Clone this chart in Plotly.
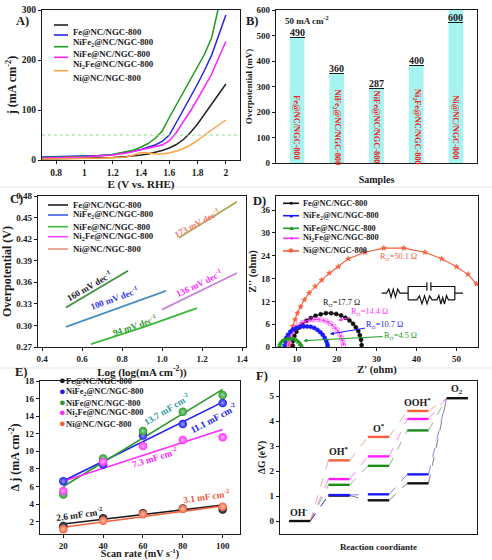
import plotly.graph_objects as go

W, H = 492, 560
SERIF = "Liberation Serif"


def fx(p):
    return p / W


def fy(p):
    return 1 - p / H


names = ["Fe@NC/NGC-800", "NiFe<sub>2</sub>@NC/NGC-800", "NiFe@NC/NGC-800",
         "Ni<sub>2</sub>Fe@NC/NGC-800", "Ni@NC/NGC-800"]

# A) LSV curves
lsv_e = [0.7, 0.8, 0.9, 1.0, 1.1, 1.2, 1.3, 1.35, 1.4, 1.45, 1.5, 1.55, 1.6,
         1.65, 1.7, 1.75, 1.8, 1.85, 1.9, 1.95, 2.0]
j_fe = [2, 2.5, 3, 3.5, 4, 5, 7, 8, 10, 12, 15, 19, 24, 31, 41, 55, 72, 92, 112, 133, 152]
j_nife2 = [6, 6.5, 7, 8, 9, 11, 15, 18, 21, 25, 30, 37, 50, 75, 100, 126, 152, 180, 210, 250, 290]
j_nife = [5, 5.5, 6, 7, 8, 11, 16, 20, 26, 33, 43, 58, 85, 110, 135, 160, 185, 212, 245, 310, 370]
j_ni2fe = [4, 4.5, 5, 6, 8, 10, 14, 17, 20, 23, 26, 30, 38, 55, 77, 98, 122, 147, 172, 205, 237]
j_ni = [2, 2, 2.5, 3, 3.5, 4.5, 6, 10, 15, 14, 12, 12, 14, 18, 23, 30, 39, 50, 60, 70, 80]
lsv_colors = ["#222222", "#2424e8", "#1e9a1e", "#ff22ff", "#ffa246"]
ref_j = 50

# B) overpotential at 50 mA cm-2
eta_bar = [490, 350, 290, 380, 600]
eta_text = ["490", "360", "287", "400", "600"]

# C) Tafel plots
tafel_fe_x, tafel_fe_y = [0.52, 0.83], [0.325, 0.376]
tafel_nife2_x, tafel_nife2_y = [0.52, 1.02], [0.298, 0.348]
tafel_nife_x, tafel_nife_y = [0.645, 0.9, 1.175], [0.274, 0.297, 0.324]
tafel_ni2fe_x, tafel_ni2fe_y = [1.0, 1.375], [0.322, 0.373]
tafel_ni_x, tafel_ni_y = [1.085, 1.375], [0.422, 0.472]
tafel_slopes = ["160", "100", "94", "136", "173"]
tafel_line_colors = ["#3d8f3d", "#4a8fc4", "#3cb83c", "#c985d9", "#b3a552"]
tafel_text_colors = ["#222222", "#3535f0", "#2d9a2d", "#ff2aff", "#f27a6e"]
tafel_legend_colors = ["#222222", "#3a60e0", "#3cb83c", "#ff44ff", "#e8967e"]

# D) Nyquist plots
z_fe_re = [9.0, 9.1, 9.4, 9.9, 10.6, 11.4, 12.4, 13.5, 14.7, 16.0, 17.3, 18.6, 19.9,
           21.1, 22.2, 23.2, 24.1, 24.8, 25.4, 25.8, 26.1, 26.25]
z_fe_im = [0.3, 1.6, 2.9, 4.0, 5.1, 6.0, 6.9, 7.6, 8.2, 8.6, 8.9, 8.9, 8.7, 8.3, 7.7,
           7.0, 6.1, 5.2, 4.2, 3.1, 1.9, 0.5]
z_nife2_re = [7.0, 7.1, 7.4, 7.8, 8.4, 9.1, 9.9, 10.8, 11.7, 12.6, 13.5, 14.4, 15.2,
              15.9, 16.5, 17.0, 17.4, 17.65, 17.75]
z_nife2_im = [0.3, 1.4, 2.4, 3.2, 4.0, 4.6, 5.0, 5.3, 5.4, 5.4, 5.3, 5.0, 4.5, 3.9,
              3.2, 2.4, 1.6, 0.8, 0.2]
z_nife_re = [5.7, 5.9, 6.3, 6.9, 7.6, 8.4, 9.2, 9.9, 10.5, 10.9, 11.2]
z_nife_im = [0.2, 0.9, 1.5, 1.9, 2.1, 2.2, 2.1, 1.8, 1.3, 0.7, 0.1]
z_ni2fe_re = [7.7, 7.9, 8.3, 8.9, 9.6, 10.5, 11.5, 12.6, 13.8, 15.0, 16.2, 17.3, 18.4,
              19.3, 20.1, 20.8, 21.3, 21.6, 21.7]
z_ni2fe_im = [0.4, 1.8, 3.0, 4.1, 5.0, 5.8, 6.5, 6.9, 7.2, 7.3, 7.1, 6.8, 6.2, 5.4,
              4.5, 3.4, 2.3, 1.2, 0.3]
z_ni_re = [8.15, 8.3, 8.6, 9.0, 9.6, 10.15, 11.0, 11.9, 13.1, 14.6, 16.25, 18.15, 20.4,
           22.9, 27.1, 31.8, 36.8, 42.1, 46.3, 50.0, 52.9, 55.0]
z_ni_im = [0.6, 2.4, 4.1, 5.4, 7.2, 8.9, 10.6, 12.4, 14.2, 15.9, 17.6, 19.4, 21.1, 23.2,
           24.9, 26.0, 26.0, 24.9, 23.2, 21.1, 19.1, 16.6]
nyq_colors = ["#111111", "#1a1aff", "#1f9a1f", "#ff33ff", "#f5603c"]
nyq_symbols = ["circle", "circle", "triangle-up", "square-open", "star"]
nyq_glyphs = ["●", "●", "▲", "◂", "✱"]
rct = ["17.7", "10.7", "4.5", "14.4", "50.1"]

# E) double layer capacitance
scan = [20, 40, 60, 80, 100]
dj_fe = [1.5, 2.4, 2.95, 3.5, 3.4]
dj_nife2 = [6.6, 8.5, 11.8, 13.1, 15.5]
dj_nife = [5.1, 9.2, 12.3, 14.5, 16.4]
dj_ni2fe = [5.5, 8.8, 10.6, 11.3, 11.6]
dj_ni = [1.15, 2.1, 2.85, 3.45, 3.7]
fit_scan = [20, 100]
fit_fe = [1.74, 3.89]
fit_nife2 = [6.62, 15.6]
fit_nife = [6.0, 17.05]
fit_ni2fe = [6.6, 12.48]
fit_ni = [1.36, 3.78]
cdl = ["2.6", "11.1", "13.7", "7.3", "3.1"]
cdl_colors = ["#1a1a1a", "#1c1ced", "#2a9a2a", "#ff2cff", "#f2603e"]
cdl_light = ["#8a8a8a", "#9a9aff", "#9ad89a", "#ffb0ff", "#ffc0a8"]
cdl_text_colors = ["#1a1a1a", "#2222ee", "#2a9d9d", "#ff22ff", "#f05a3a"]

# F) free energy diagram
steps = ["OH<sup>-</sup>", "OH<sup>*</sup>", "O<sup>*</sup>", "OOH<sup>*</sup>", "O<sub>2</sub>"]
dg_fe = [0, 1.02, 0.83, 1.51, 4.92]
dg_nife2 = [0, 1.04, 1.07, 1.87, 4.92]
dg_nife = [0, 1.45, 2.21, 3.63, 4.92]
dg_ni2fe = [0, 1.68, 2.59, 4.09, 4.92]
dg_ni = [0, 2.43, 3.37, 4.41, 4.92]
dg_colors = ["#111111", "#1a1aff", "#1a8c1a", "#ff1aff", "#f5603c"]


def tf(size, color="#1a1a1a", bold=True):
    return dict(family=SERIF, size=size, color=color, weight="bold" if bold else "normal")


fig = go.Figure()

# ---- A
for j, c in zip([j_fe, j_nife2, j_nife, j_ni2fe, j_ni], lsv_colors):
    fig.add_trace(go.Scatter(x=lsv_e, y=j, mode="lines", line=dict(color=c, width=1.5),
                             xaxis="x", yaxis="y"))

# ---- B
fig.add_trace(go.Bar(x=names, y=eta_bar, width=0.37, marker=dict(color="#a6f3ef", line=dict(width=0)),
                     xaxis="x2", yaxis="y2"))

# ---- C
tafel = [(tafel_fe_x, tafel_fe_y), (tafel_nife2_x, tafel_nife2_y), (tafel_nife_x, tafel_nife_y),
         (tafel_ni2fe_x, tafel_ni2fe_y), (tafel_ni_x, tafel_ni_y)]
for (tx, ty), c in zip(tafel, tafel_line_colors):
    fig.add_trace(go.Scatter(x=tx, y=ty, mode="lines", line=dict(color=c, width=1.8),
                             xaxis="x3", yaxis="y3"))

# ---- D
nyq = [(z_fe_re, z_fe_im), (z_nife2_re, z_nife2_im), (z_nife_re, z_nife_im),
       (z_ni2fe_re, z_ni2fe_im), (z_ni_re, z_ni_im)]
nyq_sizes = [4, 4, 4.5, 4, 4]
for k in [4, 0, 3, 1, 2]:
    zr, zi = nyq[k]
    fig.add_trace(go.Scatter(x=zr, y=zi, mode="lines+markers",
                             line=dict(color=nyq_colors[k], width=1.1),
                             marker=dict(color=nyq_colors[k], symbol=nyq_symbols[k], size=nyq_sizes[k],
                                         line=dict(width=0.6, color=nyq_colors[k])),
                             xaxis="x4", yaxis="y4"))

# ---- E
dj = [dj_fe, dj_nife2, dj_nife, dj_ni2fe, dj_ni]
fits = [fit_fe, fit_nife2, fit_nife, fit_ni2fe, fit_ni]
for f, c in zip(fits, cdl_colors):
    fig.add_trace(go.Scatter(x=fit_scan, y=f, mode="lines", line=dict(color=c, width=1.6),
                             xaxis="x5", yaxis="y5"))
for d, c, lc in zip(dj, cdl_colors, cdl_light):
    fig.add_trace(go.Scatter(x=scan, y=d, mode="markers",
                             marker=dict(color=c, size=8.5, gradient=dict(type="radial", color=lc),
                                         line=dict(width=0)),
                             xaxis="x5", yaxis="y5"))

# ---- F
half = 0.27
dgs = [dg_fe, dg_nife2, dg_nife, dg_ni2fe, dg_ni]
for dg, c in zip(dgs, dg_colors):
    cx, cy = [], []
    for i in range(len(dg) - 1):
        cx += [i + half, i + 1 - half, None]
        cy += [dg[i], dg[i + 1], None]
    fig.add_trace(go.Scatter(x=cx, y=cy, mode="lines", opacity=0.6,
                             line=dict(color=c, width=0.9, dash="dash"),
                             xaxis="x6", yaxis="y6"))
for n, (dg, c) in enumerate(zip(dgs, dg_colors)):
    idx = range(len(dg)) if n == 0 else range(1, len(dg) - 1)
    lx, ly = [], []
    for i in idx:
        lx += [i - half, i + half, None]
        ly += [dg[i], dg[i], None]
    fig.add_trace(go.Scatter(x=lx, y=ly, mode="lines", line=dict(color=c, width=2.4),
                             xaxis="x6", yaxis="y6"))


# ---- axes
def ax(domain, rng, anchor, title=None, tsize=12, standoff=2, **kw):
    d = dict(domain=domain, range=rng, anchor=anchor, showline=True, mirror=True,
             linecolor="#1a1a1a", linewidth=1.3, ticks="outside", ticklen=3, tickwidth=1,
             tickcolor="#1a1a1a", showgrid=False, zeroline=False, tickfont=tf(9),
             automargin=False)
    if title:
        d["title"] = dict(text=title, font=tf(tsize), standoff=standoff)
    d.update(kw)
    return d


layout_axes = dict(
    xaxis=ax([fx(42), fx(240)], [0.7, 2.1], "y", "E (V vs. RHE)", 11, dtick=0.2, tickfont=tf(9.5)),
    yaxis=ax([fy(160), fy(10)], [0, 300], "x", "j (mA cm<sup>-2</sup>)", 12, dtick=100, tickfont=tf(9.5)),
    xaxis2=ax([fx(276), fx(477)], [-0.53, 4.53], "y2", "Samples", 10, 12, showticklabels=False, ticks=""),
    yaxis2=ax([fy(163), fy(10)], [0, 600], "x2", "Overpotential (mV)", 9, 2, dtick=100),
    xaxis3=ax([fx(38), fx(246)], [0.38, 1.42], "y3", "Log (log(mA cm<sup>-2</sup>))", 11, dtick=0.2, tickformat=".1f"),
    yaxis3=ax([fy(347), fy(196)], [0.27, 0.48], "x3", "Overpotential (V)", 12, dtick=0.03, tickformat=".2f"),
    xaxis4=ax([fx(276), fx(478)], [4.8, 55.4], "y4", "Z' (ohm)", 10.5, dtick=10),
    yaxis4=ax([fy(347), fy(196)], [0, 39.7], "x4", "Z'' (ohm)", 10.5, dtick=6),
    xaxis5=ax([fx(40), fx(240)], [8.3, 108.7], "y5", "Scan rate (mV s<sup>-1</sup>)", 10.2, 3, dtick=20),
    yaxis5=ax([fy(534), fy(381)], [0.6, 18], "x5", "Δ j (mA cm<sup>-2</sup>)", 12, dtick=2),
    xaxis6=ax([fx(280), fx(477)], [-0.5, 4.5], "y6", "Reaction coordiante", 9, 9, showticklabels=False, ticks=""),
    yaxis6=ax([fy(534), fy(381)], [-0.52, 5.61], "x6", "ΔG (eV)", 9.5, dtick=1),
)

ann = []
shapes = []

# panel labels
for lab, x, y in [("A)", 14, 12), ("B)", 252, 12), ("C)", 8, 199), ("D)", 259, 201),
                  ("E)", 13, 381), ("F)", 262, 385)]:
    ann.append(dict(text=lab, x=fx(x), y=fy(y), xref="paper", yref="paper", showarrow=False,
                    font=tf(12.5)))


def legend(rows, colors, x0, x1, xt, glyphs=None, gsize=8, line=True, size=8.8):
    for yrow, c, n, k in zip(rows, colors, names, range(len(names))):
        if line:
            shapes.append(dict(type="line", xref="paper", yref="paper", x0=fx(x0), x1=fx(x1),
                               y0=fy(yrow), y1=fy(yrow), line=dict(color=c, width=1.6)))
        if glyphs:
            ann.append(dict(text=glyphs[k], x=fx((x0 + x1) / 2), y=fy(yrow), xref="paper",
                            yref="paper", showarrow=False, font=dict(size=gsize, color=c)))
        ann.append(dict(text=n, x=fx(xt), y=fy(yrow), xref="paper", yref="paper",
                        xanchor="left", showarrow=False, font=tf(size)))


legend([25, 35, 46.7, 57.3, 70.7], lsv_colors, 54, 68, 71)
legend([205, 215, 226.7, 236.7, 249], tafel_legend_colors, 48, 68, 71)
legend([203.3, 215.7, 228.3, 238.3, 251], nyq_colors, 283, 299, 301, nyq_glyphs, 7, size=8.3)
legend([388, 398.5, 409.5, 420, 431], cdl_colors, 57, 57, 64, ["●"] * 5, 11, line=False, size=8.5)

# A reference line
shapes.append(dict(type="line", xref="x domain", yref="y", x0=0, x1=1, y0=ref_j, y1=ref_j,
                   line=dict(color="#8ce08c", width=1, dash="dot")))

# B labels
ann.append(dict(text="50 mA cm<sup>-2</sup>", x=fx(283), y=fy(12), xref="paper", yref="paper",
                xanchor="left", yanchor="top", showarrow=False, font=tf(9)))
for n, v, t in zip(names, eta_bar, eta_text):
    top = v >= 580
    ann.append(dict(text="<u>" + t + "</u>", x=n, y=v, xref="x2", yref="y2", showarrow=False,
                    yanchor="top" if top else "bottom", yshift=-1,
                    borderpad=0, font=tf(10)))
    ann.append(dict(text=n, x=n, y=140, xref="x2", yref="y2", showarrow=False, textangle=90,
                    font=tf(8.3, "#ee2020")))

# C slope labels
for s, c, x, y, a in zip(tafel_slopes, tafel_text_colors, [0.633, 0.76, 0.865, 1.185, 1.173],
                         [0.355, 0.3386, 0.300, 0.3586, 0.442], [30, 20, 19, 26, 28]):
    ann.append(dict(text=s + " mV dec<sup>-1</sup>", x=x, y=y, xref="x3", yref="y3",
                    showarrow=False, textangle=-a, font=tf(9, c)))

# D Rct labels
rct_pos = [(21.25, 11.7, None), (32.1, 5.85, (18.3, 3.4)), (36.0, 3.0, (11.65, 1.65)),
           (28.3, 9.3, (20.4, 7.0)), (35.4, 23.6, None)]
for r, c, (x, y, tip) in zip(rct, nyq_colors, rct_pos):
    txt = "R<sub>ct</sub>=" + r + " Ω"
    if tip is None:
        ann.append(dict(text=txt, x=x, y=y, xref="x4", yref="y4", showarrow=False,
                        font=tf(8.3, c, False)))
    else:
        ann.append(dict(text=txt, x=tip[0], y=tip[1], ax=x, ay=y, xref="x4", yref="y4",
                        axref="x4", ayref="y4", showarrow=True, arrowhead=2, arrowsize=0.8,
                        arrowwidth=1, arrowcolor=c, font=tf(8.3, c, False)))


# D equivalent circuit
def zig(xa, xb, y, n, amp):
    pts = []
    step = (xb - xa) / n
    for i in range(1, n):
        pts.append("L%.2f,%.2f" % (xa + i * step, y + (amp if i % 2 else -amp)))
    pts.append("L%.2f,%.2f" % (xb, y))
    return " ".join(pts)


ym, yt, yb = 14.16, 15.9, 12.4
circuit = ("M31.25,%.2f L32.5,%.2f " % (ym, ym) + zig(32.5, 35.85, ym, 6, 1.05) +
           " L37.9,%.2f M37.9,%.2f L37.9,%.2f L42.6,%.2f" % (ym, yb, yt, yt) +
           " M42.6,%.2f L42.6,%.2f M43.6,%.2f L43.6,%.2f" % (yt - 1.1, yt + 1.1, yt - 1.1, yt + 1.1) +
           " M43.6,%.2f L49.6,%.2f L49.6,%.2f" % (yt, yt, yb) +
           " M37.9,%.2f L40.1,%.2f " % (yb, yb) + zig(40.1, 43.9, yb, 6, 1.05) +
           " L45.1,%.2f L45.6,%.2f L46.1,%.2f L46.55,%.2f L47.0,%.2f L47.5,%.2f L48.0,%.2f L49.6,%.2f" %
           (yb, yb + 1.1, yb - 1.1, yb + 0.6, yb - 1.1, yb + 1.1, yb, yb) +
           " M49.6,%.2f L51.65,%.2f" % (ym, ym))
shapes.append(dict(type="path", path=circuit, xref="x4", yref="y4",
                   line=dict(color="#111111", width=1.2)))

# E Cdl labels
for s, c, x, y, a in zip(cdl, cdl_text_colors, [27.9, 95.3, 71.9, 66.0, 92.0],
                         [2.88, 13.76, 14.79, 9.4, 4.92], [8, 28, 31, 17, 8]):
    ann.append(dict(text=s + " mF cm<sup>-2</sup>", x=x, y=y, xref="x5", yref="y5",
                    showarrow=False, textangle=-a, font=tf(9.3, c)))

# F step labels
for i, s in enumerate(steps):
    top = max(d[i] for d in dgs)
    ann.append(dict(text=s, x=i, y=top + 0.36, xref="x6", yref="y6", showarrow=False,
                    font=tf(10)))

# faint panel separators
for yline in [187, 368]:
    shapes.append(dict(type="line", xref="paper", yref="paper", x0=0, x1=1, y0=fy(yline),
                       y1=fy(yline), line=dict(color="#e6e6e6", width=1)))

fig.update_layout(
    width=W, height=H, autosize=False, showlegend=False,
    margin=dict(l=0, r=0, t=0, b=0),
    paper_bgcolor="white", plot_bgcolor="white",
    font=dict(family=SERIF, color="#1a1a1a"),
    annotations=ann, shapes=shapes,
    **layout_axes,
)

fig.write_html("out.html", config={"displayModeBar": False},
               post_script="document.body.style.margin='0px';")
